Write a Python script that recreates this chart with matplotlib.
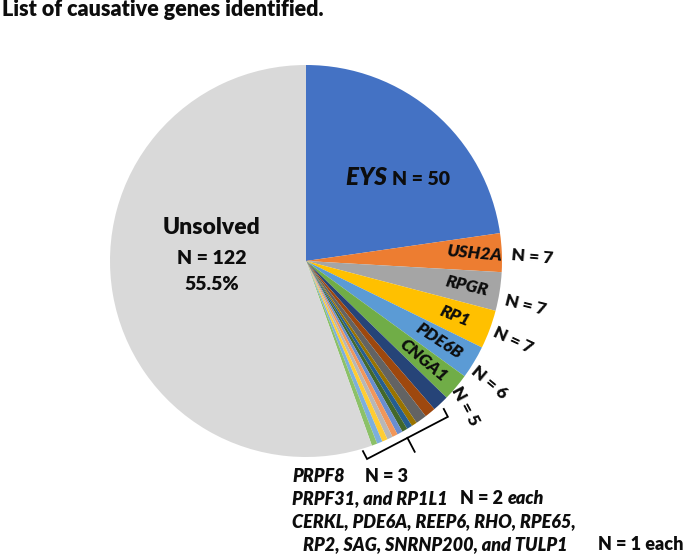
import numpy as np
import matplotlib.pyplot as plt

plt.rcParams['font.family'] = ['Lato', 'DejaVu Sans']

# data
genes = ["EYS", "USH2A", "RPGR", "RP1", "PDE6B", "CNGA1",
         "PRPF8", "PRPF31", "RP1L1",
         "CERKL", "PDE6A", "REEP6", "RHO", "RPE65", "RP2", "SAG", "SNRNP200", "TULP1",
         "Unsolved"]
counts = [50, 7, 7, 7, 6, 5,
          3, 2, 2,
          1, 1, 1, 1, 1, 1, 1, 1, 1,
          122]
colors = ["#4472C4", "#ED7D31", "#A5A5A5", "#FFC000", "#5B9BD5", "#70AD47",
          "#264478", "#9E480E", "#636363", "#997300", "#255E91", "#43682B",
          "#698ED0", "#F1975A", "#B7B7B7", "#FFCD33", "#7CAFDD", "#8CC168",
          "#D9D9D9"]

# slices that get their own label inside / outside the pie
labelled = ["USH2A", "RPGR", "RP1", "PDE6B", "CNGA1"]
gene_r = [0.857, 0.83, 0.81, 0.79, 0.785]
gene_rot = [-5, -13, -22, -33, -40]
n_r = [1.154, 1.14, 1.13, 1.12, 1.10]
n_off = [-1.5, -2.4, -0.6, -2.4, -2.3]
n_rot = [-5, -14, -25, -40, -62]

W, H = 685, 556
TXT = '#0d0d0d'
WT = 'heavy'
fig = plt.figure(figsize=(W / 100, H / 100), dpi=100)


def fx(x):
    return x / W


def fy(y):
    return 1 - y / H


# pie axes: centre (306, 261) px, radius 196 px
cx, cy, R = 306, 261, 196
ax = fig.add_axes([fx(cx - R), fy(cy + R), 2 * R / W, 2 * R / H])
wedges, _ = ax.pie(counts, colors=colors, startangle=90, counterclock=False,
                   radius=1, wedgeprops=dict(linewidth=0))
ax.set_xlim(-1, 1)
ax.set_ylim(-1, 1)
ax.axis('off')


def polar(r, ang):
    a = np.deg2rad(ang)
    return r * np.cos(a), r * np.sin(a)


def mid(w):
    return (w.theta1 + w.theta2) / 2


fs = 12.5
for i, g in enumerate(labelled):
    k = genes.index(g)
    m = mid(wedges[k])
    x, y = polar(gene_r[i], m)
    ax.text(x, y, g, ha='center', va='center', rotation=gene_rot[i],
            fontsize=fs, fontweight=WT, fontstyle='italic', color=TXT)
    x, y = polar(n_r[i], m + n_off[i])
    ax.text(x, y, "N = %d" % counts[k], ha='center', va='center', rotation=n_rot[i],
            fontsize=fs, fontweight=WT, color=TXT, clip_on=False)

# EYS label
ax.text((392 - cx) / R, (cy - 185) / R, "EYS ", ha='right', va='baseline',
        fontsize=17.5, fontweight=WT, fontstyle='italic', color=TXT)
ax.text((392 - cx) / R, (cy - 185) / R, "N = %d" % counts[0], ha='left', va='baseline',
        fontsize=14, fontweight=WT, color=TXT)

# Unsolved label
total = sum(counts)
ax.text((212 - cx) / R, (cy - 228) / R, "Unsolved", ha='center', va='center',
        fontsize=16.5, fontweight=WT, color=TXT)
ax.text((212 - cx) / R, (cy - 258) / R, "N = %d" % counts[-1], ha='center', va='center',
        fontsize=14, fontweight=WT, color=TXT)
ax.text((212 - cx) / R, (cy - 285) / R, "%.1f%%" % (100 * counts[-1] / total),
        ha='center', va='center', fontsize=14, fontweight=WT, color=TXT)

# bracket around the small slices
first = genes.index("PRPF8")
last = genes.index("TULP1")
a_start = max(wedges[first].theta1, wedges[first].theta2) - 3.5
a_end = min(wedges[last].theta1, wedges[last].theta2) - 2.5
p1 = np.array(polar(1.075, a_start))
p2 = np.array(polar(1.057, a_end))
d = (p2 - p1) / np.linalg.norm(p2 - p1)
nrm = np.array([-d[1], d[0]])  # perpendicular
if np.dot(nrm, (p1 + p2) / 2) > 0:
    nrm = -nrm  # point towards centre
tick = 0.045
pts = np.array([p1 + nrm * tick, p1, p2, p2 + nrm * tick])
ax.plot(pts[:, 0], pts[:, 1], color='black', lw=1.3, clip_on=False,
        solid_joinstyle='miter')
pm = (p1 + p2) / 2
stem = np.array([pm, pm - nrm * 0.08])
ax.plot(stem[:, 0], stem[:, 1], color='black', lw=1.3, clip_on=False)

# footnote lines under the pie, pieces placed one after another
renderer = fig.canvas.get_renderer()
kw = dict(fontsize=13, fontweight=WT, color=TXT, va='center')


def run(x0, y, pieces):
    x = x0
    for s, style, gap in pieces:
        t = fig.text(fx(x), fy(y), s, fontstyle=style, **kw)
        bb = t.get_window_extent(renderer)
        x += bb.width + gap


line_y = [476, 499, 522, 545]
run(292, line_y[0], [(genes[first], 'italic', 20),
                     ("N = %d" % counts[first], 'normal', 0)])
run(292, line_y[1], [(genes[first + 1] + ", and " + genes[first + 2], 'italic', 12),
                     ("N = %d" % counts[first + 1], 'normal', 5),
                     ("each", 'italic', 0)])
run(292, line_y[2], [(", ".join(genes[last - 8:last - 3]) + ",", 'italic', 0)])
run(303, line_y[3], [(", ".join(genes[last - 3:last]) + ", and " + genes[last], 'italic', 0)])
fig.text(fx(683), fy(line_y[3]), "N = %d each" % counts[last], ha='right', **kw)

# title
fig.text(fx(2), fy(10), "List of causative genes identified.", fontsize=15.5,
         fontweight=WT, color=TXT, va='center')

fig.savefig("out.png", dpi=100)
